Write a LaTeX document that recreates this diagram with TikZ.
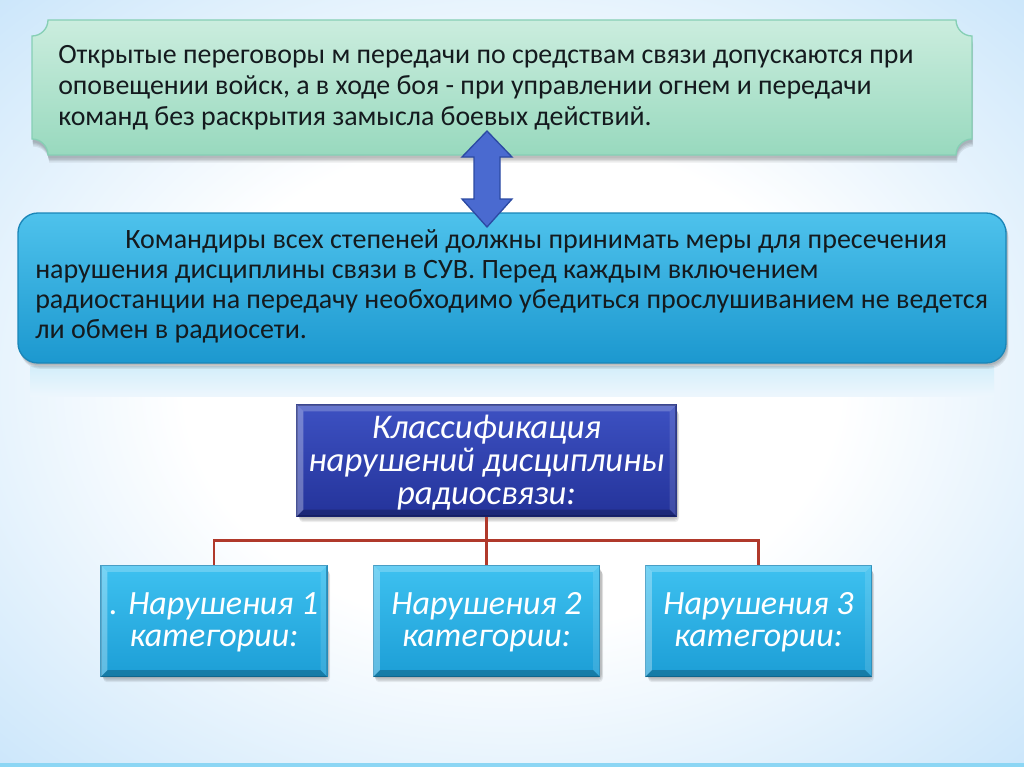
\documentclass[tikz,border=0pt]{standalone}
\usepackage{fontspec}
\setmainfont{Carlito}
\usetikzlibrary{calc}
\definecolor{bgblue}{HTML}{A6D4F7}
\definecolor{strip}{HTML}{8CD6F4}
\definecolor{gtop}{HTML}{CBEDDE}
\definecolor{gbot}{HTML}{98D9BE}
\definecolor{gline}{HTML}{86CFB5}
\definecolor{btop}{HTML}{4EC2EC}
\definecolor{bbot}{HTML}{1C98CF}
\definecolor{bline}{HTML}{1A86B8}
\definecolor{ttop}{HTML}{3D51C2}
\definecolor{tbot}{HTML}{24339A}
\definecolor{tline}{HTML}{1B287E}
\definecolor{ctop}{HTML}{3EC1F0}
\definecolor{cbot}{HTML}{1C9ED6}
\definecolor{cline}{HTML}{1583B5}
\definecolor{arrfill}{HTML}{4A6AD0}
\definecolor{arrline}{HTML}{2C4AA3}
\definecolor{conn}{HTML}{B0392B}
\definecolor{reflc}{HTML}{D3EEFA}
\definecolor{txtdark}{HTML}{141A1E}
\pgfdeclareradialshading{bgshade}{\pgfpoint{0bp}{0bp}}{color(0bp)=(white); color(16bp)=(white); color(50bp)=(bgblue); color(75bp)=(bgblue)}
\tikzset{
  bodytext/.style={inner sep=0pt, align=left, text=txtdark, font=\fontsize{20.9}{23.25}\selectfont},
  bodytextb/.style={inner sep=0pt, align=left, text=txtdark, font=\fontsize{21}{22.5}\selectfont},
  titlebox/.style={draw=tline, line width=0.8pt, top color=ttop, bottom color=tbot, minimum width=379*0.75pt, minimum height=111*0.75pt, inner sep=0pt},
  catbox/.style={draw=cline, line width=0.8pt, top color=ctop, bottom color=cbot, minimum width=226*0.75pt, minimum height=111*0.75pt, inner sep=0pt},
  wtext/.style={inner sep=0pt, align=center, text=white, font=\fontsize{25.5}{24}\selectfont\itshape},
  ttext/.style={wtext, font=\fontsize{26}{24.75}\selectfont\itshape},
  redline/.style={draw=conn, line width=2.2pt},
  shadowfill/.style={fill=black, opacity=0.07},
}
\newcommand\bevelbox[1]{%
  \fill[white, opacity=0.22] (#1.north west) -- (#1.north east) -- ($(#1.north east)+(-7,7)$) -- ($(#1.north west)+(7,7)$) -- cycle;
  \fill[white, opacity=0.30] (#1.north west) -- ($(#1.north west)+(7,7)$) -- ($(#1.south west)+(7,-7)$) -- (#1.south west) -- cycle;
  \fill[white, opacity=0.12] (#1.north east) -- ($(#1.north east)+(-7,7)$) -- ($(#1.south east)+(-7,-7)$) -- (#1.south east) -- cycle;
  \fill[black, opacity=0.22] (#1.south west) -- ($(#1.south west)+(7,-7)$) -- ($(#1.south east)+(-7,-7)$) -- (#1.south east) -- cycle;
}
% soft rectangular shadow: x1 y1 x2 y2
\newcommand\boxshadow[4]{%
  \foreach \d in {1,2,3,4}{%
    \fill[shadowfill, rounded corners=3pt] ({#1+1+\d*0.3},{#2+2+\d}) rectangle ({#3+1+\d*0.5},{#4+1+\d*1.3});
  }%
}
\newcommand\plaque{(48,20) -- (956,20) .. controls (956,28.8) and (963.2,36) .. (972,36)
 -- (972,139) .. controls (963.2,139) and (956,146.2) .. (956,155)
 -- (48,155) .. controls (48,146.2) and (40.8,139) .. (32,139)
 -- (32,36) .. controls (40.8,36) and (48,28.8) .. (48,20) -- cycle}
\begin{document}
\begin{tikzpicture}[x=0.75pt,y=-0.75pt]
\useasboundingbox (0,0) rectangle (1024,767);
\path[shading=bgshade] (0,0) rectangle (1024,767);
\fill[strip] (0,763) rectangle (1024,767);

% top plaque with soft shadow
\foreach \d in {1,2,3,4}{\fill[shadowfill, shift={(\d*0.3,2+\d*1.4)}] \plaque;}
\path[top color=gtop, bottom color=gbot, draw=gline, line width=1pt] \plaque;
\node[bodytext, anchor=north west] (toptxt) at (58,45)
 {Открытые переговоры м передачи по средствам связи допускаются при\\
  оповещении войск, а в ходе боя - при управлении огнем и передачи\\
  команд без раскрытия замысла боевых действий.};

% reflection of middle box
\shade[top color=reflc, bottom color=white!80!bgblue] (30,366) rectangle (994,396);

% middle box
\foreach \d in {1,2,3,4}{\fill[shadowfill, rounded corners=15pt] ({19+\d*0.3},{214+\d}) rectangle ({1007+\d*0.4},{364+\d*1.2});}
\node[draw=bline, line width=1pt, top color=btop, bottom color=bbot, rounded corners=15pt,
  minimum width=988*0.75pt, minimum height=150*0.75pt, inner sep=0pt] (mid) at (512,288) {};
\node[bodytextb, anchor=north west] (midtxt) at (35,229)
 {\hspace*{67.5pt}Командиры всех степеней должны принимать меры для пресечения\\
  нарушения дисциплины связи в СУВ. Перед каждым включением\\
  радиостанции на передачу необходимо убедиться прослушиванием не ведется\\
  ли обмен в радиосети.};

% double arrow
\path[fill=arrfill, draw=arrline, line width=1pt, line join=miter]
 (487,131) -- (512,157) -- (500,157) -- (500,199) -- (512,199) -- (487,227)
 -- (462,199) -- (474,199) -- (474,157) -- (462,157) -- cycle;

% classification box
\boxshadow{297}{405}{676}{516}
\node[titlebox] (cls) at (486.5,460.5) {};
\bevelbox{cls}
\node[ttext] (clst) at (486.5,462.5) {Классификация\\нарушений дисциплины\\радиосвязи:};

% category boxes
\boxshadow{101}{565}{327}{676}
\boxshadow{373}{565}{600}{676}
\boxshadow{646}{565}{871}{676}
\node[catbox] (c1) at (214,621) {};
\node[catbox] (c2) at (486.5,621) {};
\node[catbox] (c3) at (758.5,621) {};
\bevelbox{c1}
\bevelbox{c2}
\bevelbox{c3}
\node[wtext] (c1t) at (214,622.5) {. Нарушения 1\\категории:};
\node[wtext] (c2t) at (486.5,622.5) {Нарушения 2\\категории:};
\node[wtext] (c3t) at (758.5,622.5) {Нарушения 3\\категории:};

% connectors
\draw[redline] (cls.south) -- ++(0,24) coordinate (hub);
\draw[redline] (c1.north) |- (hub) -| (c3.north);
\draw[redline] (hub) -- (c2.north);
\end{tikzpicture}
\end{document}
